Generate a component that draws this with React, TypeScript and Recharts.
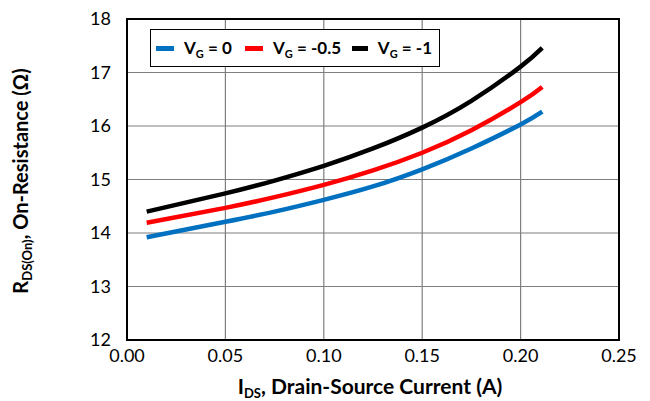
import React from 'react';
import { LineChart, Line, XAxis, YAxis, CartesianGrid, ReferenceArea, Label } from 'recharts';

// drain-source current (A)
const current = [0.01, 0.05, 0.075, 0.1, 0.125, 0.15, 0.175, 0.2, 0.211];
// on-resistance (ohm) per gate voltage
const rVg0 = [13.92, 14.21, 14.4, 14.62, 14.87, 15.19, 15.58, 16.03, 16.27];
const rVgM05 = [14.19, 14.47, 14.67, 14.9, 15.17, 15.5, 15.92, 16.445, 16.73];
const rVgM1 = [14.4, 14.74, 14.98, 15.255, 15.58, 15.97, 16.47, 17.11, 17.46];

const xTicks = [0, 0.05, 0.1, 0.15, 0.2, 0.25];
const yTicks = [12, 13, 14, 15, 16, 17, 18];

const series = [
  { key: 'vg0', label: '0', color: '#0070C0', w: 89 },
  { key: 'vgm05', label: '-0.5', color: '#FF0000', w: 107 },
  { key: 'vgm1', label: '-1', color: '#000000', w: 80 },
];

const data = current.map((i, n) => ({
  ids: i,
  vg0: rVg0[n],
  vgm05: rVgM05[n],
  vgm1: rVgM1[n],
}));

const FONT = 'Lato, "Open Sans", sans-serif';

function XTitle(props: any) {
  const { viewBox } = props;
  const cx = viewBox.x + viewBox.width / 2 - 3;
  return (
    <text x={cx} y={viewBox.y + 54} textAnchor="middle" fontFamily={FONT} fontWeight={700} fontSize={21} fill="#000">
      I<tspan fontSize={13} dy={4}>DS</tspan>
      <tspan dy={-4}>, Drain-Source Current (A)</tspan>
    </text>
  );
}

function YTitle() {
  const x = 28;
  const y = 181;
  return (
    <text x={x} y={y} textAnchor="middle" transform={`rotate(-90, ${x}, ${y})`} fontFamily={FONT} fontWeight={700} fontSize={20} fill="#000">
      R<tspan fontSize={13} dy={4}>DS(On)</tspan>
      <tspan dy={-4}>, On-Resistance (Ω)</tspan>
    </text>
  );
}

function LegendBox() {
  return (
    <div
      style={{
        position: 'absolute',
        left: 150,
        top: 29,
        width: 290,
        height: 38,
        boxSizing: 'border-box',
        border: '1.5px solid #000',
        background: '#fff',
        display: 'flex',
        alignItems: 'center',
        paddingLeft: 5,
        fontFamily: FONT,
        fontWeight: 700,
        fontSize: 17,
        color: '#000',
        whiteSpace: 'nowrap',
      }}
    >
      {series.map((s) => (
        <div key={s.key} style={{ display: 'flex', alignItems: 'center', width: s.w, flex: 'none' }}>
          <span style={{ display: 'inline-block', width: 18, height: 5, background: s.color, marginRight: 10 }} />
          <span>
            V<sub style={{ fontSize: 11, verticalAlign: -4 }}>G</sub> = {s.label}
          </span>
        </div>
      ))}
    </div>
  );
}

export default function App() {
  return (
    <div style={{ position: 'absolute', left: 0, top: 0, width: 650, height: 401, background: '#fff', fontFamily: FONT }}>
      <LineChart width={650} height={401} data={data} margin={{ top: 19, right: 31, bottom: 0, left: 0 }}>
        <CartesianGrid stroke="#7f7f7f" strokeWidth={1.2} />
        <XAxis
          dataKey="ids"
          type="number"
          domain={[0, 0.25]}
          ticks={xTicks}
          tickFormatter={(v: number) => v.toFixed(2)}
          height={61}
          tickSize={0}
          tickMargin={9}
          axisLine={false}
          tick={{ fill: '#000', fontSize: 18, fontFamily: FONT }}
        >
          <Label content={XTitle} />
        </XAxis>
        <YAxis
          type="number"
          domain={[12, 18]}
          ticks={yTicks}
          width={127}
          tickSize={0}
          tickMargin={16}
          axisLine={false}
          tick={{ fill: '#000', fontSize: 18, fontFamily: FONT }}
        >
          <Label content={YTitle} />
        </YAxis>
        <ReferenceArea x1={0} x2={0.25} y1={12} y2={18} fill="none" stroke="#000" strokeWidth={2} />
        {series.map((s) => (
          <Line
            key={s.key}
            dataKey={s.key}
            type="natural"
            stroke={s.color}
            strokeWidth={4.5}
            dot={false}
            isAnimationActive={false}
          />
        ))}
      </LineChart>
      <LegendBox />
    </div>
  );
}
